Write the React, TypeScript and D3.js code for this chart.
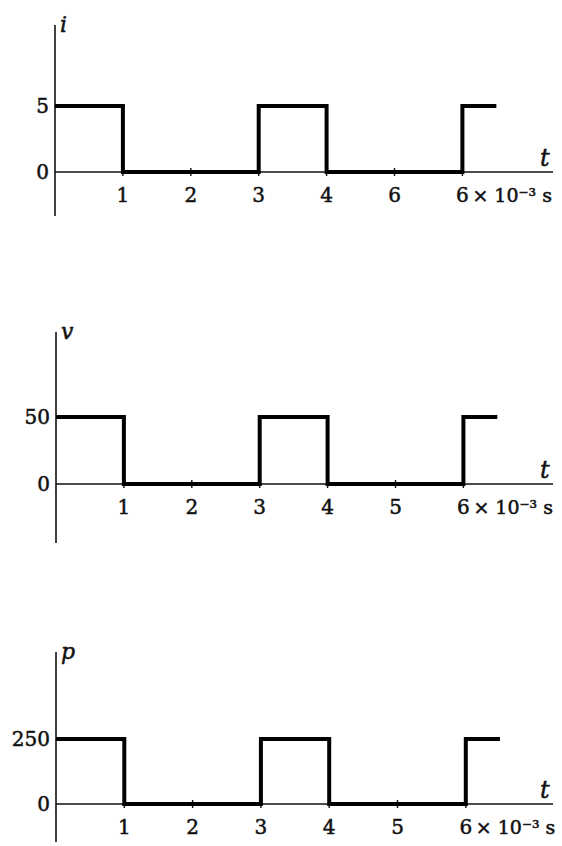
import React from 'react';
import * as d3 from 'd3';

// time breakpoints (x 10^-3 s) and the three square waves
const times = [0, 1, 3, 4, 6, 6.5];
const current = [5, 0, 5, 0, 5, 5];
const voltage = [50, 0, 50, 0, 50, 50];
const power = [250, 0, 250, 0, 250, 250];

const tickValues = [1, 2, 3, 4, 5, 6];
const tickLabelsTop = ['1', '2', '3', '4', '6', '6'];
const tickLabels = ['1', '2', '3', '4', '5', '6'];
const unitLabel = '× 10⁻³ s';

const W = 562;
const H = 846;
const font = '"DejaVu Serif", "Liberation Serif", serif';

type Panel = {
  name: string;
  values: number[];
  level: number;
  labels: string[];
  axisTop: number;
  levelY: number;
  zeroY: number;
  axisBottom: number;
  x0: number;
  unit: number;
};

const panels: Panel[] = [
  { name: 'i', values: current, level: 5, labels: tickLabelsTop, axisTop: 25, levelY: 106, zeroY: 172, axisBottom: 216, x0: 55, unit: 67.9 },
  { name: 'v', values: voltage, level: 50, labels: tickLabels, axisTop: 332, levelY: 417, zeroY: 484, axisBottom: 543, x0: 56, unit: 67.9 },
  { name: 'p', values: power, level: 250, labels: tickLabels, axisTop: 652, levelY: 739, zeroY: 804, axisBottom: 842, x0: 56, unit: 68.3 },
];

function WavePanel({ p }: { p: Panel }) {
  const x = d3.scaleLinear().domain([0, 1]).range([p.x0, p.x0 + p.unit]);
  const y = d3.scaleLinear().domain([0, p.level]).range([p.zeroY, p.levelY]);
  const line = d3.line<number>()
    .x((_, i) => x(times[i]))
    .y(d => y(d))
    .curve(d3.curveStepAfter);
  const labelY = p.zeroY + 30;
  const last = tickValues[tickValues.length - 1];
  const txt = { fontFamily: font, fill: '#111', stroke: '#111', strokeWidth: 0.5 };

  return (
    <g>
      {/* axes */}
      <line x1={p.x0} x2={p.x0} y1={p.axisTop} y2={p.axisBottom} stroke="#111" strokeWidth={1.6} />
      <line x1={p.x0} x2={553} y1={p.zeroY} y2={p.zeroY} stroke="#111" strokeWidth={1.4} />
      {tickValues.map(t => (
        <line key={t} x1={x(t)} x2={x(t)} y1={p.zeroY - 4} y2={p.zeroY + 4} stroke="#111" strokeWidth={1.4} />
      ))}
      {/* square wave */}
      <path d={line(p.values) || ''} fill="none" stroke="#000" strokeWidth={4} strokeLinejoin="miter" />
      {/* y labels */}
      <g {...txt} fontSize={20} textAnchor="end">
        <text x={p.x0 - 6} y={y(p.level) + 7}>{p.level}</text>
        <text x={p.x0 - 6} y={y(0) + 7}>0</text>
      </g>
      {/* x tick labels */}
      <g {...txt} fontSize={20} textAnchor="middle">
        {tickValues.map((t, i) => (
          <text key={t} x={x(t)} y={labelY}>{p.labels[i]}</text>
        ))}
      </g>
      <text {...txt} x={x(last) + 10} y={labelY} fontSize={19}>{unitLabel}</text>
      {/* axis names */}
      <text {...txt} x={p.x0 + 5} y={p.axisTop + 7} fontStyle="italic" fontSize={22}>{p.name}</text>
      <text {...txt} x={540} y={p.zeroY - 6} fontStyle="italic" fontSize={24}>t</text>
    </g>
  );
}

export default function App() {
  return (
    <svg width={W} height={H} style={{ position: 'absolute', left: 0, top: 0, background: '#fff' }}>
      <rect width={W} height={H} fill="#fff" />
      {panels.map(p => <WavePanel key={p.name} p={p} />)}
    </svg>
  );
}
